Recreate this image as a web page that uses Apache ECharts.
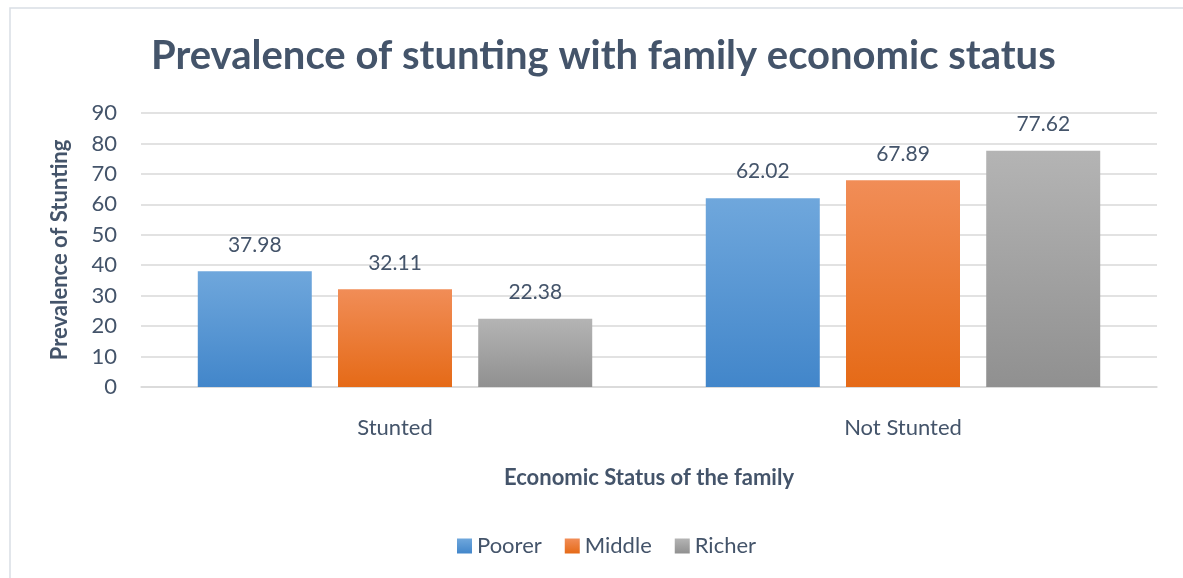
<!DOCTYPE html>
<html><head><meta charset="utf-8">
<script src="https://cdn.jsdelivr.net/npm/echarts@6/dist/echarts.min.js"></script>
<style>html,body{margin:0;padding:0;background:#fff}#c{width:1183px;height:578px}</style>
</head><body><div id="c"></div>
<script>
const categories = ["Stunted", "Not Stunted"];
const seriesNames = ["Poorer", "Middle", "Richer"];
const poorer = [37.98, 62.02];
const middle = [32.11, 67.89];
const richer = [22.38, 77.62];
const yTicks = [0, 10, 20, 30, 40, 50, 60, 70, 80, 90];

const FONT = "Lato, 'Open Sans', sans-serif";
const TXT = "#44546A";
function grad(top, bottom) {
  return new echarts.graphic.LinearGradient(0, 0, 0, 1, [{offset: 0, color: top}, {offset: 1, color: bottom}]);
}
const colors = [grad("#6FA7DC", "#4286CA"), grad("#F18D57", "#E56A17"), grad("#B4B4B4", "#909090")];
const values = [poorer, middle, richer];

const chart = echarts.init(document.getElementById('c'), null, {renderer: 'canvas'});
chart.setOption({
  animation: false,
  backgroundColor: '#fff',
  graphic: [{type: 'rect', shape: {x: 10, y: 8, width: 1200, height: 600}, style: {fill: 'none', stroke: '#D9DEE5', lineWidth: 1.5}, z: -1}],
  title: {
    text: "Prevalence of stunting with family economic status",
    left: 146, top: 31,
    textStyle: {fontFamily: FONT, fontWeight: 'bold', fontSize: 40, color: TXT}
  },
  legend: {
    bottom: 16, left: 452,
    itemWidth: 15, itemHeight: 15, itemGap: 23,
    icon: 'rect',
    textStyle: {fontFamily: FONT, fontSize: 22, color: TXT},
    data: seriesNames.map((n, i) => ({name: n, itemStyle: {color: colors[i]}}))
  },
  grid: {left: 141, right: 26, top: 113, bottom: 191},
  xAxis: {
    type: 'category', data: categories,
    name: "Economic Status of the family", nameLocation: 'middle', nameGap: 80,
    nameTextStyle: {fontFamily: FONT, fontWeight: 'bold', fontSize: 22, color: TXT},
    axisLine: {lineStyle: {color: '#D9D9D9', width: 1.5}},
    axisTick: {show: false},
    axisLabel: {fontFamily: FONT, fontSize: 22, color: TXT, margin: 30}
  },
  yAxis: {
    type: 'value', min: 0, max: 90, interval: 10,
    name: "Prevalence of Stunting", nameLocation: 'middle', nameGap: 70,
    nameTextStyle: {fontFamily: FONT, fontWeight: 'bold', fontSize: 22, color: TXT},
    axisLine: {show: false}, axisTick: {show: false},
    axisLabel: {fontFamily: FONT, fontSize: 22, color: TXT, margin: 24,
      formatter: v => yTicks.includes(v) ? String(v) : ''},
    splitLine: {lineStyle: {color: '#D9D9D9', width: 1.5}}
  },
  series: seriesNames.map((n, i) => ({
    name: n, type: 'bar', data: values[i],
    barWidth: 114, barGap: '23%', barCategoryGap: '22%',
    itemStyle: {color: colors[i]},
    label: {show: true, position: 'top', distance: 16, fontFamily: FONT, fontSize: 21, color: TXT,
      formatter: p => p.value.toFixed(2)}
  }))
});
</script></body></html>
